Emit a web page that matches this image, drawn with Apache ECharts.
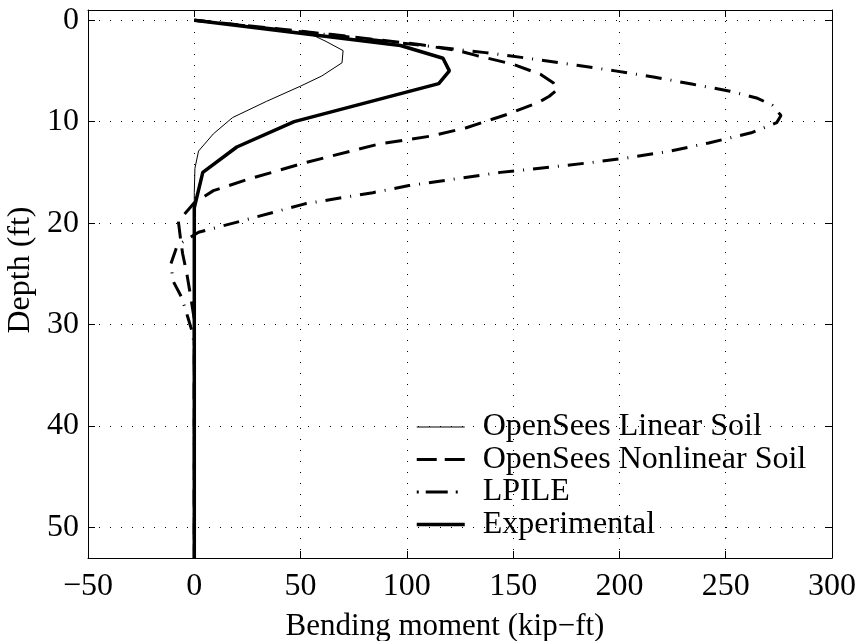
<!DOCTYPE html>
<html>
<head>
<meta charset="utf-8">
<script src="https://cdn.jsdelivr.net/npm/echarts@6/dist/echarts.min.js"></script>
<style>
  html, body { margin: 0; padding: 0; background: #fff; }
  #chart { width: 863px; height: 641px; }
</style>
</head>
<body>
<div id="chart"></div>
<script>
// Bending moment profiles along the pile: [moment (kip-ft), depth (ft)]
const linearSoil = [
  [0, 0], [55, 1.4], [62, 2.1], [70, 3.0], [69.5, 4.2], [60, 5.5], [50, 6.5],
  [34, 8.0], [18, 9.6], [9, 11.2], [2, 12.9], [0.3, 14.6], [0, 17], [0, 53]
];
const nonlinearSoil = [
  [0, 0], [64, 1.4], [106, 2.4], [125, 3.05], [133, 3.5], [150, 4.35], [163, 5.35],
  [169, 6.2], [171, 6.8], [167, 7.5], [162, 8.1], [147, 9.3], [128, 10.6], [112, 11.4],
  [87, 12.2], [53, 14.0], [25, 15.7], [9, 16.8], [0, 18.0], [-7.5, 19.8], [-6.5, 21.5],
  [-5.5, 23], [-3.5, 25], [-1.5, 27.5], [0, 29.5], [0, 53]
];
const lpile = [
  [0, 0], [64, 1.45], [137, 3.2], [155, 3.7], [180, 4.45], [198, 5.0], [216, 5.6],
  [234, 6.3], [252, 7.0], [265, 7.7], [272, 8.4], [276, 9.4], [274, 10.1], [262, 11.1],
  [242, 12.1], [224, 12.9], [206, 13.5], [188, 14.0], [167, 14.5], [144, 15.0],
  [101, 16.3], [84, 17.0], [52, 18.1], [22, 19.8], [2, 20.9], [-8, 22.2], [-11, 24],
  [-10, 25.7], [-6, 27.3], [-3, 29.3], [-1, 30.7], [0, 32], [0, 53]
];
const experimental = [
  [0, 0], [97, 2.5], [117, 3.75], [120, 5], [115, 6.25], [47, 10], [20, 12.5],
  [4, 15], [0, 18.5], [0, 53]
];

const seriesNames = ['OpenSees Linear Soil', 'OpenSees Nonlinear Soil', 'LPILE', 'Experimental'];
const depthTicks = [0, 10, 20, 30, 40, 50];

const FONT = 'Liberation Serif';
const minus = v => String(v).replace('-', '\u2212');

const gridDots = { show: true, lineStyle: { color: '#000', width: 1, type: [1, 10] } };
const frameLine = { show: true, onZero: false, lineStyle: { color: '#000', width: 1 } };
const inTick = { show: true, inside: true, length: 7, lineStyle: { color: '#000', width: 1 } };

// line styles shared by the plot and its legend keys
const styles = [
  { color: '#000', width: 1 },
  { color: '#000', width: 3, type: [17, 10] },
  { color: '#000', width: 3, type: [16, 9, 1, 9] },
  { color: '#000', width: 3.5 }
];
const legendStyles = [
  styles[0],
  { color: '#000', width: 3, type: [20, 8, 20, 10] },
  { color: '#000', width: 3, type: [2, 7, 22, 8, 2, 20] },
  styles[3]
];
const profiles = [linearSoil, nonlinearSoil, lpile, experimental];

const chart = echarts.init(document.getElementById('chart'), null, { renderer: 'canvas' });

chart.setOption({
  animation: false,
  backgroundColor: '#fff',
  grid: { left: 88, right: 31, top: 10, bottom: 83, containLabel: false, outerBoundsMode: 'none' },
  xAxis: [
    {
      type: 'value', position: 'bottom', min: -50, max: 300, interval: 50,
      name: 'Bending moment (kip\u2212ft)', nameLocation: 'middle', nameGap: 53,
      nameTextStyle: { fontFamily: FONT, fontSize: 31, color: '#000', padding: [0, 30, 0, 0] },
      axisLine: frameLine, axisTick: inTick, splitLine: gridDots,
      axisLabel: { fontFamily: FONT, fontSize: 32, color: '#000', margin: 13, formatter: minus }
    },
    {
      type: 'value', position: 'top', min: -50, max: 300, interval: 50,
      axisLine: frameLine, axisTick: inTick, splitLine: { show: false }, axisLabel: { show: false }
    }
  ],
  yAxis: [
    {
      type: 'value', position: 'left', inverse: true, min: -1, max: 53,
      name: 'Depth (ft)', nameLocation: 'middle', nameGap: 47,
      nameTextStyle: { fontFamily: FONT, fontSize: 32, color: '#000', padding: [0, 0, 0, 28] },
      axisLine: frameLine,
      axisTick: Object.assign({ customValues: depthTicks }, inTick),
      splitLine: gridDots,
      axisLabel: { customValues: depthTicks, fontFamily: FONT, fontSize: 32, color: '#000', margin: 9 }
    },
    {
      type: 'value', position: 'right', inverse: true, min: -1, max: 53,
      axisLine: frameLine,
      axisTick: Object.assign({ customValues: depthTicks }, inTick),
      splitLine: { show: false }, axisLabel: { show: false, customValues: depthTicks }
    }
  ],
  legend: {
    orient: 'vertical', left: 410, top: 406, itemWidth: 48, itemHeight: 12, itemGap: 0.5,
    itemStyle: { opacity: 0 },
    textStyle: { fontFamily: FONT, fontSize: 32, color: '#000', padding: [0, 0, 0, 13] },
    data: seriesNames.map((name, i) => ({ name, lineStyle: legendStyles[i], itemStyle: { opacity: 0 } }))
  },
  series: seriesNames.map((name, i) => ({
    name, type: 'line', data: profiles[i], symbol: 'none',
    lineStyle: styles[i], itemStyle: { color: '#000' }
  }))
});
</script>
</body>
</html>
